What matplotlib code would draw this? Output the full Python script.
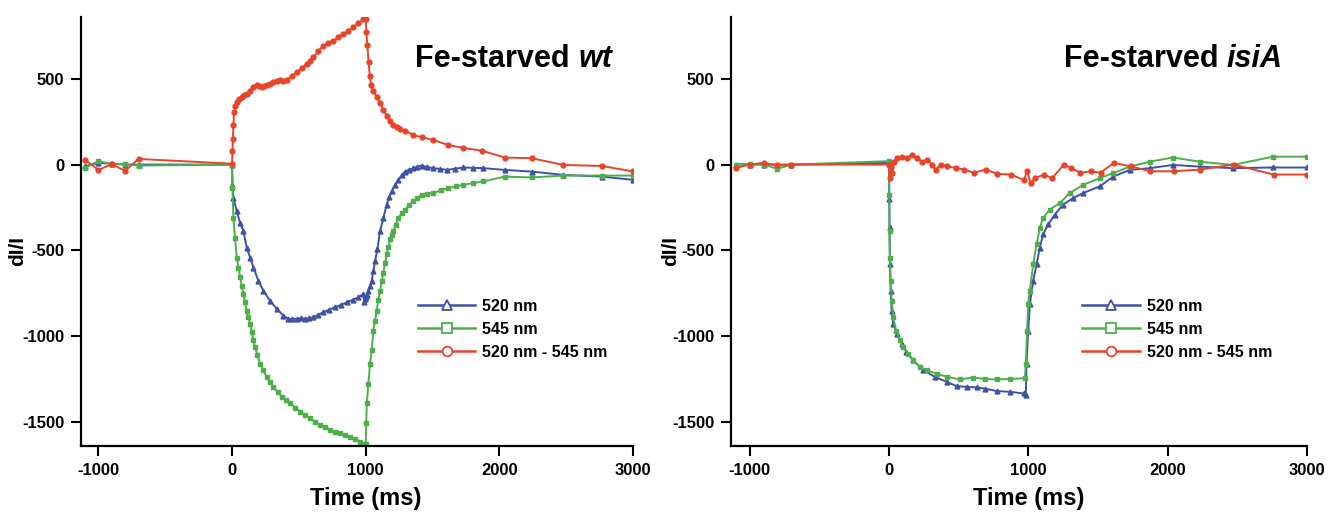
import matplotlib
matplotlib.use("Agg")
import matplotlib.pyplot as plt
from matplotlib.lines import Line2D

plt.rcParams["axes.unicode_minus"] = False

# ---- Fe-starved wt (left panel) ----
wt_520_t = [-1100, -1000, -900, -800, -700, 0, 3, 10, 35, 60, 85, 110, 135, 160, 197, 234,
            284, 334, 384, 421, 452, 484, 515, 546, 577, 608, 645, 683, 727, 770, 814, 858,
            902, 945, 982, 990, 995, 1000, 1008, 1020, 1032, 1045, 1057, 1070, 1087, 1107,
            1132, 1157, 1175, 1194, 1219, 1244, 1269, 1294, 1325, 1356, 1387, 1419, 1462,
            1506, 1556, 1606, 1668, 1731, 1805, 1880, 2042, 2242, 2478, 2765, 3000]
wt_520_y = [-10, 10, 5, 0, 0, 0, -118, -195, -272, -340, -388, -485, -542, -600, -677, -735,
            -793, -841, -880, -899, -899, -899, -895, -899, -895, -890, -875, -861, -845, -832,
            -818, -803, -788, -774, -754, -800, -781, -770, -760, -735, -710, -677, -620, -561,
            -494, -388, -311, -233, -190, -156, -120, -89, -62, -41, -30, -21, -12, -6, -15,
            -21, -25, -31, -24, -17, -19, -21, -31, -41, -60, -70, -89]

wt_545_t = [-1100, -1000, -900, -800, -700, 0, 3, 10, 22, 35, 48, 60, 72, 85, 97, 110, 122,
            135, 147, 160, 172, 190, 209, 234, 259, 284, 309, 340, 372, 403, 434, 471, 509,
            546, 583, 620, 658, 695, 733, 770, 808, 845, 883, 920, 957, 982, 1000, 1004, 1008,
            1020, 1032, 1045, 1057, 1070, 1082, 1095, 1107, 1120, 1132, 1145, 1157, 1170,
            1182, 1194, 1206, 1225, 1244, 1269, 1294, 1325, 1356, 1387, 1419, 1462, 1506,
            1562, 1618, 1675, 1731, 1805, 1880, 2042, 2242, 2478, 2765, 3000]
wt_545_y = [-21, 21, 2, 2, -6, 0, -137, -311, -427, -542, -600, -658, -705, -754, -800, -851,
            -890, -928, -975, -1025, -1063, -1110, -1160, -1200, -1237, -1268, -1295, -1325,
            -1353, -1372, -1391, -1416, -1440, -1460, -1478, -1498, -1517, -1532, -1546, -1556,
            -1565, -1575, -1585, -1598, -1614, -1627, -1627, -1507, -1391, -1276, -1160, -1083,
            -967, -910, -851, -790, -735, -680, -629, -575, -523, -480, -436, -410, -388, -350,
            -311, -285, -262, -238, -214, -195, -175, -170, -166, -150, -137, -127, -118, -108,
            -98, -70, -75, -64, -64, -64]

wt_diff_t = [-1100, -1000, -900, -800, -700, 0, 3, 6, 10, 15, 25, 35, 50, 72, 90, 110, 135,
             160, 185, 205, 222, 240, 259, 284, 309, 334, 359, 384, 409, 446, 484, 521, 559,
             583, 608, 645, 683, 720, 758, 795, 833, 870, 907, 945, 982, 1000, 1005, 1012,
             1022, 1030, 1040, 1057, 1082, 1107, 1132, 1157, 1182, 1206, 1232, 1257, 1294,
             1356, 1419, 1506, 1618, 1731, 1868, 2042, 2242, 2478, 2765, 3000]
wt_diff_y = [27, -31, 2, -37, 33, 5, 80, 150, 230, 307, 340, 365, 380, 394, 405, 413, 430,
             452, 465, 458, 452, 456, 461, 470, 481, 486, 490, 488, 490, 515, 538, 562, 587,
             606, 625, 660, 693, 708, 722, 741, 760, 780, 799, 823, 847, 850, 770, 694, 596,
             519, 461, 430, 395, 360, 320, 285, 255, 232, 218, 208, 198, 172, 160, 143, 114,
             97, 81, 41, 37, -2, -8, -40]

# ---- Fe-starved isiA (right panel) ----
isi_520_t = [-1100, -1000, -900, -800, -700, 0, 2, 4, 7, 12, 19, 31, 55, 90, 125, 174, 246,
             330, 414, 485, 557, 629, 688, 772, 867, 968, 982, 987, 999, 1011, 1035, 1059,
             1082, 1106, 1142, 1190, 1250, 1321, 1393, 1513, 1608, 1728, 1871, 2038, 2229,
             2468, 2755, 3000]
isi_520_y = [0, 0, 0, 0, 0, 10, -200, -365, -581, -735, -851, -928, -986, -1044, -1092,
             -1141, -1199, -1237, -1266, -1291, -1295, -1299, -1305, -1320, -1324, -1334, -1343,
             -1160, -967, -812, -677, -581, -485, -407, -349, -291, -233, -195, -166, -127,
             -70, -31, -21, -2, -12, -21, -17, -17]

isi_545_t = [-1100, -1000, -900, -800, -700, 0, 2, 4, 7, 12, 19, 31, 50, 79, 103, 138, 174,
             222, 270, 342, 414, 509, 605, 688, 772, 867, 975, 982, 991, 999, 1011, 1035, 1059,
             1082, 1106, 1154, 1226, 1297, 1393, 1513, 1608, 1728, 1871, 2038, 2229, 2468,
             2755, 3000]
isi_545_y = [0, 5, 0, -25, 0, 20, -176, -388, -542, -677, -793, -890, -967, -1025, -1063,
             -1102, -1141, -1179, -1199, -1218, -1237, -1252, -1241, -1249, -1252, -1249, -1245,
             -1160, -967, -812, -735, -581, -465, -369, -311, -262, -224, -166, -118, -79, -50,
             -12, 17, 41, 17, -2, 46, 46]

isi_diff_t = [-1100, -1000, -900, -800, -700, 0, 5, 12, 24, 36, 60, 96, 131, 167, 203, 239,
              275, 311, 335, 370, 418, 478, 538, 609, 693, 777, 872, 968, 992, 1016, 1051,
              1111, 1171, 1255, 1303, 1374, 1446, 1518, 1613, 1733, 1876, 2043, 2234, 2473,
              2760, 3000]
isi_diff_y = [-20, 0, 10, -5, 0, 0, -79, -12, -50, 17, 37, 46, 37, 56, 37, 17, 27, 0, -31,
              0, -10, -19, -29, -48, -29, -54, -58, -89, -39, -108, -79, -58, -79, 0, -19,
              -48, -39, -48, 10, -10, -39, -39, -29, 0, -58, -58]

labels = ["520 nm", "545 nm", "520 nm - 545 nm"]
colors = ["#3d52a6", "#4fae4c", "#e8442a"]
markers = ["^", "s", "o"]
xticks = [-1000, 0, 1000, 2000, 3000]
yticks = [-1500, -1000, -500, 0, 500]

narrow = ["Liberation Sans Narrow", "DejaVu Sans Condensed", "Liberation Sans"]
wide = ["Liberation Sans", "DejaVu Sans"]

fig = plt.figure(figsize=(13.35, 5.2), dpi=100)
ax1 = fig.add_axes([0.0607, 0.1423, 0.4135, 0.825])
ax2 = fig.add_axes([0.5476, 0.1423, 0.4315, 0.825])

panels = [
    (ax1, [(wt_520_t, wt_520_y), (wt_545_t, wt_545_y), (wt_diff_t, wt_diff_y)],
     "wt", 0.962, -1130, -0.098),
    (ax2, [(isi_520_t, isi_520_y), (isi_545_t, isi_545_y), (isi_diff_t, isi_diff_y)],
     "isiA", 0.958, -1133, -0.0885),
]

for ax, series, strain, tx, xmin, ylx in panels:
    for (t, y), c, m in zip(series, colors, markers):
        ax.plot(t, y, color=c, lw=1.4, marker=m, ms=3.5, mfc=c, mec=c)
    ax.set_xlim(xmin, 3000)
    ax.set_ylim(-1640, 860)
    ax.set_xticks(xticks)
    ax.set_yticks(yticks)
    for s in ["top", "right"]:
        ax.spines[s].set_visible(False)
    for s in ["left", "bottom"]:
        ax.spines[s].set_linewidth(1.6)
    ax.tick_params(direction="out", length=7, width=1.5, pad=5)
    for lab in ax.get_xticklabels() + ax.get_yticklabels():
        lab.set_family(narrow)
        lab.set_fontweight("bold")
        lab.set_fontsize(12)
    ax.set_xlabel("Time (ms)", family=narrow, fontweight="bold", fontsize=17)
    ax.xaxis.set_label_coords(0.516, -0.095)
    ax.set_ylabel("dI/I", family=wide, fontweight="bold", fontsize=15)
    ax.yaxis.set_label_coords(ylx, 0.455)
    # title: bold upright part + bold italic strain name
    t_it = ax.text(tx, 0.868, strain, transform=ax.transAxes, ha="right", va="bottom",
                   fontsize=22, fontweight="bold", fontstyle="italic", family=wide)
    ax.annotate("Fe-starved ", xy=(0, 0), xycoords=t_it, ha="right", va="bottom",
                fontsize=22, fontweight="bold", family=wide)
    handles = [Line2D([], [], color=c, lw=1.8, marker=m, ms=7, mfc="white", mec=c, mew=1.3)
               for c, m in zip(colors, markers)]
    ax.legend(handles, labels, loc="center left", bbox_to_anchor=(0.61, 0.272),
              frameon=False, handlelength=3.6, handletextpad=0.45, labelspacing=0.5,
              borderpad=0, borderaxespad=0,
              prop={"family": wide, "weight": "bold", "size": 11.5})

plt.savefig("out.png", dpi=100)
